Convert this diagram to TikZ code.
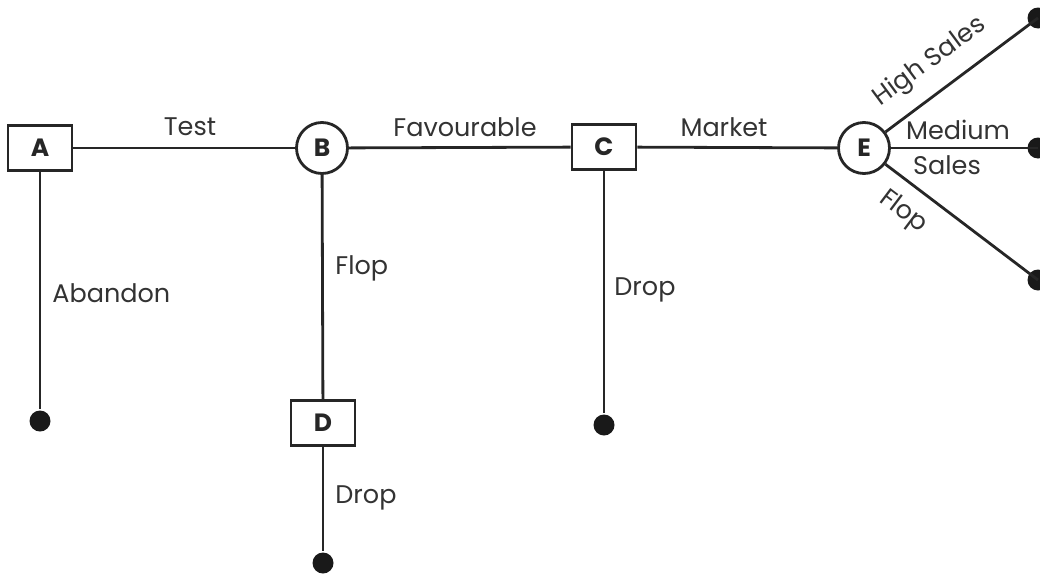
\documentclass[tikz,border=0pt]{standalone}
\usepackage{fontspec}
\setmainfont{Poppins}
\begin{document}
\begin{tikzpicture}[x=1pt,y=-1pt,
  line width=2.8pt, draw=black!85,
  sq/.style={draw=black!85, fill=white, minimum width=64pt, minimum height=45pt, inner sep=0pt, font=\fontsize{25}{27}\selectfont\bfseries, text=black!85},
  ch/.style={draw=black!85, fill=white, circle, minimum size=51pt, inner sep=0pt, font=\fontsize{25}{27}\selectfont\bfseries, text=black!85},
  dot/.style={circle, fill=black!90, draw=none, minimum size=21pt, inner sep=0pt},
  lbl/.style={font=\fontsize{25.5}{28}\selectfont, text=black!80, inner sep=0pt}]
\useasboundingbox (0,0) rectangle (1040,573);
\node[sq] (A) at (40,148) {A};
\node[ch] (B) at (322,148) {B};
\node[sq] (C) at (604,147) {C};
\node[sq] (D) at (323,423) {D};
\node[ch] (E) at (864,148) {E};
\node[dot] (a1) at (40,421) {};
\node[dot] (d1) at (323,563) {};
\node[dot] (c1) at (604,425) {};
\node[dot] (e1) at (1038,18) {};
\node[dot] (e2) at (1038,148) {};
\node[dot] (e3) at (1038,280) {};
\draw (A) -- (B);
\draw (B) -- (C);
\draw (C) -- (E);
\draw (A) -- (a1);
\draw (B) -- (D);
\draw (D) -- (d1);
\draw (C) -- (c1);
\draw (E) -- (e1.center);
\draw (E) -- (e2.center);
\draw (E) -- (e3.center);
\node[lbl] (tTest) at (190,127) {Test};
\node[lbl] (tFav) at (465,127) {Favourable};
\node[lbl] (tMar) at (724,127) {Market};
\node[lbl,anchor=west] (tAb) at (51,293) {Abandon};
\node[lbl,anchor=west] (tFlop) at (334,268) {Flop};
\node[lbl,anchor=west] (tDrop1) at (613,290) {Drop};
\node[lbl,anchor=west] (tDrop2) at (334,498) {Drop};
\node[lbl,rotate=36.5] (tHigh) at (930,62) {High Sales};
\node[lbl] (tMed) at (958,130) {Medium};
\node[lbl] (tSal) at (947,165) {Sales};
\node[lbl,rotate=-37] (tFl) at (903,212) {Flop};
\end{tikzpicture}
\end{document}
